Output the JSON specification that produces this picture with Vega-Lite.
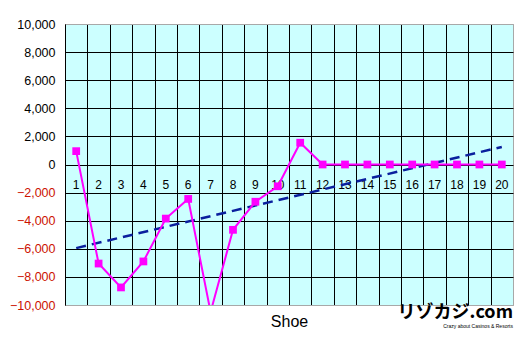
{
  "$schema": "https://vega.github.io/schema/vega-lite/v6.json",
  "width": 448,
  "height": 281,
  "autosize": {"type": "none"},
  "padding": {"left": 65, "top": 24, "right": 11, "bottom": 37},
  "background": "white",
  "config": {
    "font": "Liberation Sans",
    "view": {"fill": "#ccffff", "stroke": "#a8a8a8", "strokeWidth": 1}
  },
  "title": {
    "text": "リゾカジ.com",
    "subtitle": "Crazy about Casinos & Resorts",
    "orient": "bottom",
    "anchor": "end",
    "font": "Noto Sans CJK JP",
    "fontSize": 18,
    "fontWeight": "bold",
    "color": "black",
    "subtitleFont": "Liberation Sans",
    "subtitleFontSize": 5,
    "subtitleColor": "black",
    "subtitlePadding": 2,
    "offset": -25
  },
  "datasets": {
    "results": [
      {"Shoe": 1, "Result": 950},
      {"Shoe": 2, "Result": -7050},
      {"Shoe": 3, "Result": -8750},
      {"Shoe": 4, "Result": -6900},
      {"Shoe": 5, "Result": -3850},
      {"Shoe": 6, "Result": -2450},
      {"Shoe": 7, "Result": -10500},
      {"Shoe": 8, "Result": -4650},
      {"Shoe": 9, "Result": -2650},
      {"Shoe": 10, "Result": -1550},
      {"Shoe": 11, "Result": 1550},
      {"Shoe": 12, "Result": 0},
      {"Shoe": 13, "Result": 0},
      {"Shoe": 14, "Result": 0},
      {"Shoe": 15, "Result": 0},
      {"Shoe": 16, "Result": 0},
      {"Shoe": 17, "Result": 0},
      {"Shoe": 18, "Result": 0},
      {"Shoe": 19, "Result": 0},
      {"Shoe": 20, "Result": 0}
    ],
    "trend": [
      {"Shoe": 1, "Result": -5950},
      {"Shoe": 20, "Result": 1250}
    ]
  },
  "layer": [
    {
      "data": {"name": "results"},
      "mark": {"type": "text", "fontSize": 12, "color": "black", "baseline": "middle", "dy": 20},
      "encoding": {
        "x": {
          "field": "Shoe",
          "type": "quantitative",
          "scale": {"domain": [0.5, 20.5], "nice": false, "zero": false},
          "axis": {
            "title": "Shoe",
            "titleFontSize": 16,
            "titleFontWeight": "normal",
            "titleColor": "black",
            "titlePadding": 8,
            "labels": false,
            "ticks": false,
            "domain": false,
            "tickCount": 40,
            "values": [0.5, 1.5, 2.5, 3.5, 4.5, 5.5, 6.5, 7.5, 8.5, 9.5, 10.5, 11.5, 12.5, 13.5, 14.5, 15.5, 16.5, 17.5, 18.5, 19.5, 20.5],
            "grid": true,
            "gridColor": {"condition": {"test": "datum.value > 20", "value": "#a8a8a8"}, "value": "black"},
            "gridOpacity": 1,
            "gridWidth": 1
          }
        },
        "y": {
          "datum": 0,
          "type": "quantitative",
          "scale": {"domain": [-10000, 10000], "nice": false},
          "axis": {
            "title": null,
            "tickCount": 30,
            "values": [-10000, -8000, -6000, -4000, -2000, 0, 2000, 4000, 6000, 8000, 10000],
            "format": ",d",
            "labelOverlap": false,
            "labelFontSize": 12.5,
            "labelPadding": 10,
            "labelColor": {"condition": {"test": "datum.value < 0", "value": "#cc1100"}, "value": "black"},
            "ticks": false,
            "domain": true,
            "domainColor": "black",
            "domainWidth": 1,
            "grid": true,
            "gridColor": {"condition": {"test": "abs(datum.value) == 10000", "value": "#a8a8a8"}, "value": "black"},
            "gridOpacity": 1,
            "gridWidth": 1
          }
        },
        "text": {"field": "Shoe", "type": "quantitative"}
      }
    },
    {
      "data": {"name": "trend"},
      "mark": {"type": "line", "color": "#0a1f9e", "strokeWidth": 2.5, "strokeDash": [10, 6], "clip": true},
      "encoding": {
        "x": {"field": "Shoe", "type": "quantitative"},
        "y": {"field": "Result", "type": "quantitative"}
      }
    },
    {
      "data": {"name": "results"},
      "mark": {"type": "line", "color": "#ff00ff", "strokeWidth": 2, "clip": true},
      "encoding": {
        "x": {"field": "Shoe", "type": "quantitative"},
        "y": {"field": "Result", "type": "quantitative"}
      }
    },
    {
      "data": {"name": "results"},
      "mark": {"type": "point", "shape": "square", "filled": true, "color": "#ff00ff", "size": 60, "opacity": 1, "clip": true},
      "encoding": {
        "x": {"field": "Shoe", "type": "quantitative"},
        "y": {"field": "Result", "type": "quantitative"}
      }
    }
  ]
}
